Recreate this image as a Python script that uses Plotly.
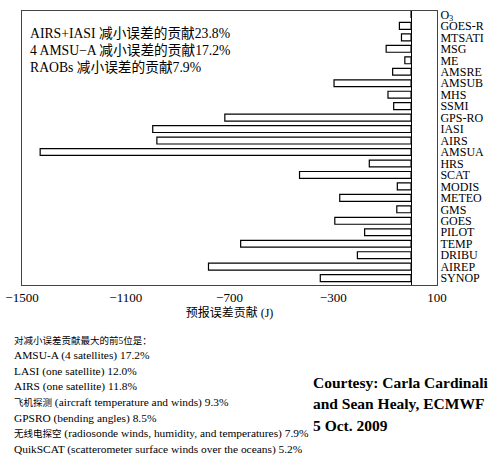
import plotly.graph_objects as go

# categories bottom -> top
categories = ["SYNOP", "AIREP", "DRIBU", "TEMP", "PILOT", "GOES", "GMS", "METEO",
              "MODIS", "SCAT", "HRS", "AMSUA", "AIRS", "IASI", "GPS-RO", "SSMI",
              "MHS", "AMSUB", "AMSRE", "ME", "MSG", "MTSATI", "GOES-R", "O<sub>3</sub>"]
values = [-350, -781, -207, -657, -179, -294, -55, -275,
          -53, -430, -161, -1430, -980, -996, -718, -67,
          -89, -297, -71, -24, -96, -37, -45, 0]

x_ticks = [-1500, -1100, -700, -300, 100]
x_ticklabels = ["\u22121500", "\u22121100", "\u2212700", "\u2212300", "100"]

notes_top = ["AIRS+IASI 减小误差的贡献23.8%",
             "4 AMSU\u2212A 减小误差的贡献17.2%",
             "RAOBs 减小误差的贡献7.9%"]

CJK_SPAN = '<span style="font-size:9.5px">{}</span>'
notes_bottom = [CJK_SPAN.format("对减小误差贡献最大的前5位是："),
                "AMSU-A (4 satellites) 17.2%",
                "LASI (one satellite) 12.0%",
                "AIRS (one satellite) 11.8%",
                CJK_SPAN.format("飞机探测") + " (aircraft temperature and winds) 9.3%",
                "GPSRO (bending angles) 8.5%",
                CJK_SPAN.format("无线电探空") + " (radiosonde winds, humidity, and temperatures) 7.9%",
                "QuikSCAT (scatterometer surface winds over the oceans) 5.2%"]

courtesy = ["Courtesy: Carla Cardinali", "and Sean Healy, ECMWF", "5 Oct. 2009"]

ypos = list(range(len(categories)))

serif = "Liberation Serif, Times New Roman, Noto Sans CJK SC, serif"
cjk_serif = "Liberation Serif, Noto Sans CJK SC, serif"

L, R, T, B = 22, 437, 11, 285
PW, PH = R - L, B - T

fig = go.Figure()
fig.add_trace(go.Bar(
    y=ypos, x=values, orientation="h", width=0.6,
    marker=dict(color="white", line=dict(color="black", width=1.2)),
    showlegend=False, hoverinfo="skip"))

fig.update_layout(
    width=491, height=455,
    margin=dict(l=L, r=491 - R, t=T, b=455 - B, autoexpand=False),
    paper_bgcolor="white", plot_bgcolor="white",
    font=dict(family=serif, color="black", size=13),
    xaxis=dict(range=[-1500, 100], tickvals=x_ticks, ticktext=x_ticklabels,
               showgrid=False, zeroline=True, zerolinecolor="black", zerolinewidth=1.2,
               showline=True, linecolor="#444", linewidth=1, mirror=True, automargin=False,
               ticks="", tickfont=dict(family=serif, size=13),
               title=dict(text="预报误差贡献 (J)", font=dict(family=cjk_serif, size=12), standoff=4)),
    yaxis=dict(range=[-0.6, 23.3], tickvals=ypos, ticktext=categories, side="right",
               showgrid=False, zeroline=False, showline=True, linecolor="#444",
               linewidth=1, mirror=True, ticks="", automargin=False,
               tickfont=dict(family=serif, size=12)),
)

def py(ypx):
    return (B - ypx) / PH

def px(xpx):
    return (xpx - L) / PW

# top-left annotations
for i, t in enumerate(notes_top):
    fig.add_annotation(text=t, xref="paper", yref="paper", x=px(28), y=py(34 + 16.5 * i),
                       xanchor="left", yanchor="middle", showarrow=False,
                       font=dict(family=cjk_serif, size=13.7))

# bottom notes
for i, t in enumerate(notes_bottom):
    fig.add_annotation(text=t, xref="paper", yref="paper", x=px(12), y=py(340 + 15.6 * i),
                       xanchor="left", yanchor="middle", showarrow=False,
                       font=dict(family=cjk_serif, size=11.4))

for i, t in enumerate(courtesy):
    fig.add_annotation(text="<b>" + t + "</b>", xref="paper", yref="paper", x=px(311),
                       y=py(382 + 21.5 * i), xanchor="left", yanchor="middle", showarrow=False,
                       font=dict(family=serif, size=15.5))

fig.write_html("out.html", config={"displayModeBar": False},
               post_script="document.body.style.margin='0px';")
